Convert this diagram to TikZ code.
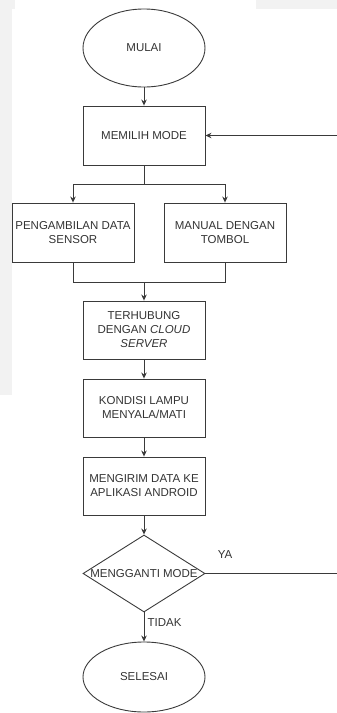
\documentclass[tikz,border=0pt]{standalone}
\usepackage{fontspec}
\setmainfont{Liberation Sans}
\usetikzlibrary{shapes.geometric,arrows.meta}
\definecolor{garis}{HTML}{3A3A3A}
\definecolor{teks}{HTML}{333333}
\definecolor{latar}{HTML}{F2F2F2}
\tikzset{
  kotak/.style={draw=garis, line width=0.9pt, rectangle, minimum width=122pt, minimum height=59pt, inner sep=1pt, align=center, text=teks},
  oval/.style={draw=garis, line width=0.9pt, ellipse, minimum width=122pt, inner sep=0pt, align=center, text=teks},
  keputusan/.style={draw=garis, line width=0.9pt, diamond, minimum width=122pt, minimum height=77pt, inner sep=0pt},
  panah/.style={draw=garis, line width=0.9pt, -{Stealth[length=6pt,width=5.5pt]}},
  garisbiasa/.style={draw=garis, line width=0.9pt},
  label/.style={text=teks, inner sep=1pt}
}
\begin{document}
\begin{tikzpicture}[x=1pt,y=1pt,font=\fontsize{11.5}{14}\selectfont]
            \useasboundingbox (0,0) rectangle (337,-713);
            % latar halaman
            \fill[latar] (0,0) rectangle (12,-395);
            \fill[latar] (0,0) rectangle (15,-9);
            \fill[latar] (256,0) rectangle (337,-9);
            % simbol
            \node[oval, minimum height=78pt] (mulai) at (144,-48) {MULAI};
            \node[kotak] (pilih) at (144,-135.5) {MEMILIH MODE};
            \node[kotak] (sensor) at (73,-232.5) {PENGAMBILAN DATA\\SENSOR};
            \node[kotak] (tombol) at (225,-232.5) {MANUAL DENGAN\\TOMBOL};
            \node[kotak, minimum height=58pt] (cloud) at (144,-330) {TERHUBUNG\\DENGAN \textit{CLOUD}\\\textit{SERVER}};
            \node[kotak, minimum height=58pt] (lampu) at (144,-408) {KONDISI LAMPU\\MENYALA/MATI};
            \node[kotak, minimum height=58pt] (kirim) at (144,-486) {MENGIRIM DATA KE\\APLIKASI ANDROID};
            \node[keputusan] (ganti) at (144,-573.5) {};
            \node[label] (gantiteks) at (ganti) {MENGGANTI MODE};
            \node[oval, minimum height=70pt] (selesai) at (144,-677) {SELESAI};
            % titik bantu
            \coordinate (cabang) at (144,-184);
            \coordinate (gabung) at (144,-282);
            \coordinate (kanan1) at (337,-135.5);
            \coordinate (kanan2) at (337,-573.5);
            % alur
            \draw[panah] (mulai) -- (pilih);
            \draw[garisbiasa] (pilih) -- (cabang);
            \draw[panah] (cabang) -| (sensor);
            \draw[panah] (cabang) -| (tombol);
            \draw[garisbiasa] (sensor) |- (gabung);
            \draw[garisbiasa] (tombol) |- (gabung);
            \draw[panah] (gabung) -- (cloud);
            \draw[panah] (cloud) -- (lampu);
            \draw[panah] (lampu) -- (kirim);
            \draw[panah] (kirim) -- (ganti);
            \draw[panah] (ganti) -- (selesai);
            \draw[garisbiasa] (ganti.east) -- (kanan2);
            \draw[panah] (kanan1) -- (pilih.east);
                % keterangan
            \node[label] (ya) at (225,-555) {YA};
            \node[label] (tidak) at (164.5,-623) {TIDAK};
        \end{tikzpicture}
\end{document}
